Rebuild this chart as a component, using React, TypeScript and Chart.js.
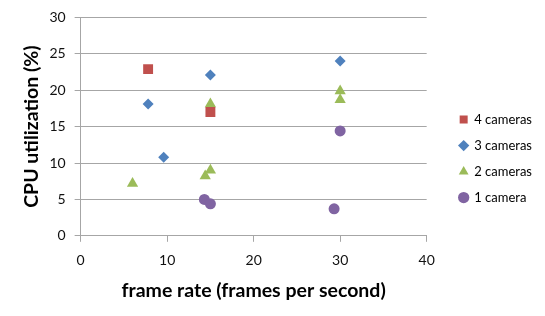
import React, { useEffect, useRef } from "react";
import { Chart, registerables } from "chart.js";

Chart.register(...registerables);

const seriesNames = ["4 cameras", "3 cameras", "2 cameras", "1 camera"];
const cam4X = [7.8, 15];
const cam4Y = [22.9, 17.0];
const cam3X = [7.8, 9.6, 15, 30];
const cam3Y = [18.1, 10.8, 22.1, 24.0];
const cam2X = [6, 14.4, 15, 15, 30, 30];
const cam2Y = [7.2, 8.2, 9.0, 18.1, 19.9, 18.7];
const cam1X = [14.3, 15, 30, 29.3];
const cam1Y = [5.0, 4.4, 14.4, 3.7];
const xTicks = [0, 10, 20, 30, 40];
const yTicks = [0, 5, 10, 15, 20, 25, 30];

const colors = ["#C0504D", "#4F81BD", "#9BBB59", "#8064A2"];
const styles = ["rect", "rectRot", "triangle", "circle"];
const radii = [7, 5.5, 6.5, 5.5];

const toPoints = (xs: number[], ys: number[]) => xs.map((x, i) => ({ x, y: ys[i] }));

export default function App() {
  const ref = useRef<HTMLCanvasElement>(null);
  useEffect(() => {
    const all = [
      toPoints(cam4X, cam4Y),
      toPoints(cam3X, cam3Y),
      toPoints(cam2X, cam2Y),
      toPoints(cam1X, cam1Y),
    ];
    const font = "Lato, 'Open Sans', sans-serif";
    const chart = new Chart(ref.current!, {
      type: "scatter",
      data: {
        datasets: all.map((d, i) => ({
          label: seriesNames[i],
          data: d,
          backgroundColor: colors[i],
          borderColor: colors[i],
          borderWidth: 0,
          pointStyle: styles[i] as any,
          pointRadius: radii[i],
          pointHoverRadius: radii[i],
        })),
      },
      options: {
        animation: false,
        responsive: false,
        layout: { padding: { left: 20, right: 13, top: 8, bottom: 14 } },
        plugins: {
          tooltip: { enabled: false },
          legend: {
            position: "right",
            title: { display: true, text: " ", font: { size: 6 }, padding: 0 },
            labels: {
              usePointStyle: true,
              boxWidth: 8,
              boxHeight: 8,
              padding: 13,
              color: "#000",
              font: { family: font, size: 13 },
            },
          },
        },
        scales: {
          x: {
            type: "linear",
            min: 0,
            max: 40,
            afterBuildTicks: (s: any) => {
              s.ticks = xTicks.map((v) => ({ value: v }));
            },
            grid: { drawOnChartArea: false, color: "#a6a6a6", tickLength: 6 },
            border: { color: "#a6a6a6" },
            ticks: { color: "#111", font: { family: font, size: 14 }, padding: 10 },
            title: {
              display: true,
              text: "frame rate (frames per second)",
              color: "#000",
              font: { family: font, size: 19.5, weight: "bold" },
              padding: { top: 0, bottom: 0 },
            },
          },
          y: {
            type: "linear",
            min: 0,
            max: 30,
            afterBuildTicks: (s: any) => {
              s.ticks = yTicks.map((v) => ({ value: v }));
            },
            grid: { color: "#a6a6a6", tickLength: 6 },
            border: { color: "#a6a6a6" },
            ticks: { color: "#111", font: { family: font, size: 14 }, padding: 9 },
            title: {
              display: true,
              text: "CPU utilization (%)",
              color: "#000",
              font: { family: font, size: 19.5, weight: "bold" },
              padding: { top: 0, bottom: -3 },
            },
          },
          spacer: {
            type: "linear",
            position: "right",
            display: true,
            grid: { display: false },
            border: { display: false },
            ticks: { display: false },
            afterFit: (s: any) => {
              s.width = 20;
            },
          },
        },
      },
    });
    return () => chart.destroy();
  }, []);
  return (
    <div style={{ position: "fixed", left: 0, top: 0, width: 545, height: 316, background: "#fff" }}>
      <canvas ref={ref} width={545} height={316} style={{ width: 545, height: 316 }} />
    </div>
  );
}
